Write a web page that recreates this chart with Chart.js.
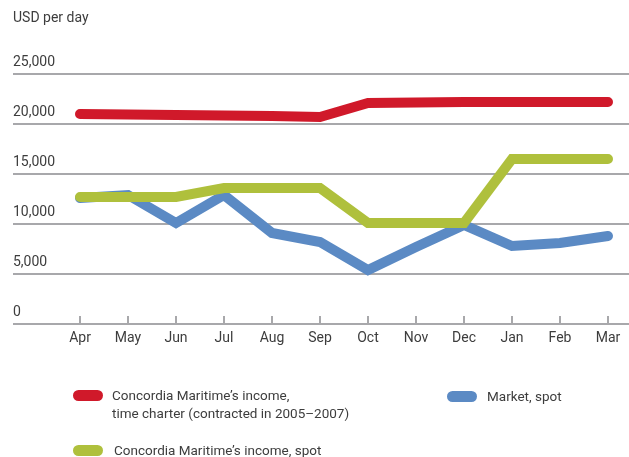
<!DOCTYPE html>
<html>
<head>
<meta charset="utf-8">
<script src="https://cdn.jsdelivr.net/npm/chart.js@4"></script>
<style>
  body { margin: 0; background: #fff; font-family: Roboto, sans-serif; color: #3d3d3d; }
  #wrap { position: relative; width: 629px; height: 457px; }
  #chart { position: absolute; left: 0; top: 0; }
  .unit { position: absolute; left: 13px; top: 9px; font-size: 14px; }
  .leg { position: absolute; font-size: 13.5px; line-height: 18px; }
  .sw { position: absolute; width: 30px; height: 11px; border-radius: 5.5px; }
</style>
</head>
<body>
<div id="wrap">
  <canvas id="chart" width="629" height="457"></canvas>
  <div class="unit">USD per day</div>
  <div class="sw" style="left:73px; top:390px; background:#d0192a"></div>
  <div class="leg" style="left:112px; top:386px">Concordia Maritime’s income,<br>time charter (contracted in 2005–2007)</div>
  <div class="sw" style="left:447px; top:391px; background:#5b8ac4"></div>
  <div class="leg" style="left:487px; top:387px">Market, spot</div>
  <div class="sw" style="left:73px; top:445px; background:#afc03c"></div>
  <div class="leg" style="left:114px; top:441px">Concordia Maritime’s income, spot</div>
</div>
<script>
  // months and series values (USD per day)
  const months = ['Apr', 'May', 'Jun', 'Jul', 'Aug', 'Sep', 'Oct', 'Nov', 'Dec', 'Jan', 'Feb', 'Mar'];
  const timeCharter = [21000, 20950, 20900, 20850, 20800, 20700, 22100, 22150, 22200, 22200, 22200, 22200];
  const cmSpot = [12700, 12700, 12700, 13600, 13600, 13600, 10100, 10100, 10100, 16500, 16500, 16500];
  const marketSpot = [12600, 12900, 10100, 12900, 9100, 8200, 5400, 7700, 9900, 7800, 8100, 8800];
  const yTicks = [0, 5000, 10000, 15000, 20000, 25000];

  const toPoints = arr => arr.map((v, i) => ({ x: i, y: v }));

  // small upward tick marks on the x axis line
  const tickMarks = {
    id: 'tickMarks',
    afterDatasetsDraw(chart) {
      const ctx = chart.ctx;
      const xs = chart.scales.x;
      const y0 = chart.scales.y.getPixelForValue(0);
      ctx.save();
      ctx.strokeStyle = '#a8a8ab';
      ctx.lineWidth = 2;
      months.forEach((m, i) => {
        const x = xs.getPixelForValue(i);
        ctx.beginPath();
        ctx.moveTo(x, y0);
        ctx.lineTo(x, y0 - 8);
        ctx.stroke();
      });
      ctx.restore();
    }
  };

  function lineSet(label, data, color) {
    return {
      label: label,
      data: toPoints(data),
      borderColor: color,
      backgroundColor: color,
      borderWidth: 10,
      borderCapStyle: 'round',
      borderJoinStyle: 'miter',
      pointRadius: 0,
      tension: 0
    };
  }

  // first dataset is drawn on top
  new Chart(document.getElementById('chart'), {
    type: 'line',
    data: {
      datasets: [
        lineSet('Concordia Maritime’s income, time charter', timeCharter, '#d0192a'),
        lineSet('Concordia Maritime’s income, spot', cmSpot, '#afc03c'),
        lineSet('Market, spot', marketSpot, '#5b8ac4')
      ]
    },
    options: {
      responsive: false,
      animation: false,
      layout: { padding: { left: 13, right: 0, top: 74, bottom: 103 } },
      plugins: { legend: { display: false }, tooltip: { enabled: false } },
      scales: {
        x: {
          type: 'linear',
          min: -67 / 48,
          max: 11 + 21 / 48,
          afterBuildTicks: s => { s.ticks = months.map((m, i) => ({ value: i })); },
          afterFit: s => { s.height = 30; },
          grid: { display: false, drawTicks: false },
          border: { display: false },
          ticks: {
            padding: 6,
            color: '#3d3d3d',
            font: { family: 'Roboto', size: 14 },
            callback: v => months[v]
          }
        },
        y: {
          min: 0,
          max: 25000,
          afterBuildTicks: s => { s.ticks = yTicks.map(v => ({ value: v })); },
          grid: { color: '#a8a8ab', lineWidth: 2, drawTicks: false },
          border: { display: false },
          ticks: {
            mirror: true,
            padding: 0,
            labelOffset: -12,
            color: '#3d3d3d',
            font: { family: 'Roboto', size: 14 },
            callback: v => v.toLocaleString('en-US')
          }
        }
      }
    },
    plugins: [tickMarks]
  });
</script>
</body>
</html>
